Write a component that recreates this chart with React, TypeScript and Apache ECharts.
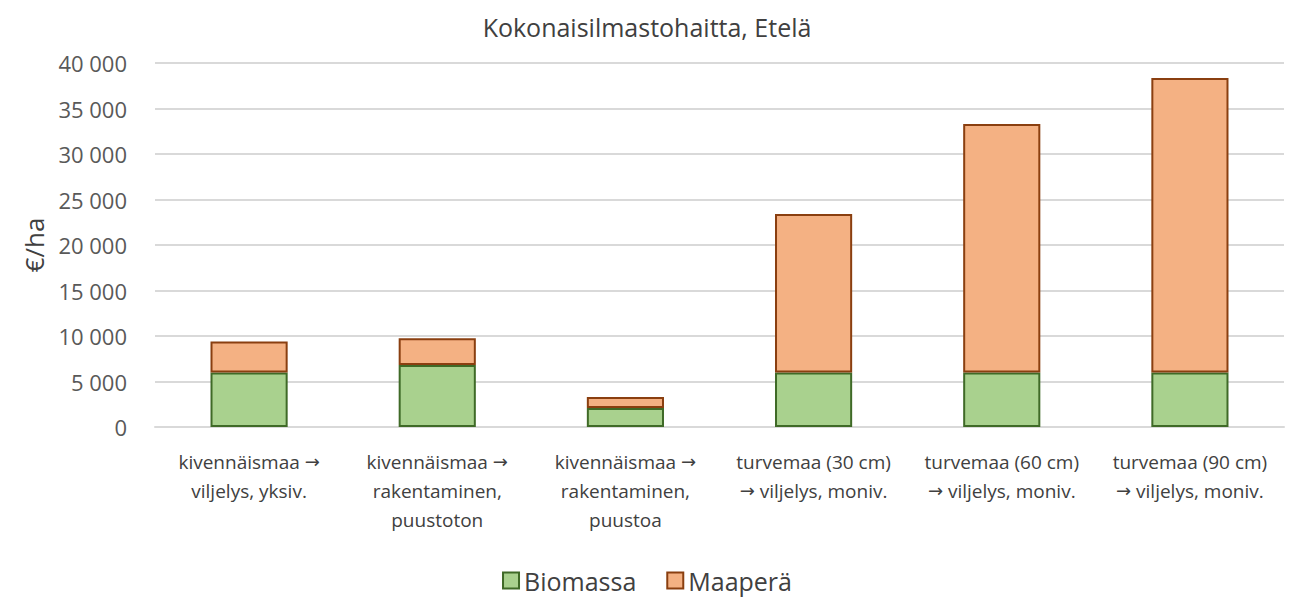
import React, { useEffect, useRef } from "react";
import * as echarts from "echarts";

const title = "Kokonaisilmastohaitta, Etelä";
const categories = [
  "kivennäismaa →\nviljelys, yksiv.",
  "kivennäismaa →\nrakentaminen,\npuustoton",
  "kivennäismaa →\nrakentaminen,\npuustoa",
  "turvemaa (30 cm)\n→ viljelys, moniv.",
  "turvemaa (60 cm)\n→ viljelys, moniv.",
  "turvemaa (90 cm)\n→ viljelys, moniv.",
];
const biomassa = [6000, 6800, 2100, 6000, 6000, 6000];
const maapera = [3400, 2950, 1200, 17400, 27300, 32350];
const seriesNames = ["Biomassa", "Maaperä"];

const FONT = "'Open Sans', 'Noto Sans', sans-serif";

export default function App() {
  const ref = useRef<HTMLDivElement>(null);
  useEffect(() => {
    if (!ref.current) return;
    const chart = echarts.init(ref.current, null, { renderer: "svg" });
    const fmt = (v: number) =>
      String(Math.round(v)).replace(/\B(?=(\d{3})+(?!\d))/g, " ");
    const catFmt = (v: string) =>
      v
        .split("\n")
        .map((line) =>
          line
            .split("→")
            .map((part) => (part ? `{t|${part}}` : ""))
            .join("{a|→}")
        )
        .join("\n");
    chart.setOption({
      animation: false,
      backgroundColor: "#ffffff",
      textStyle: { fontFamily: FONT },
      title: {
        text: title,
        left: "center",
        top: 9,
        textStyle: { fontFamily: FONT, fontSize: 25, fontWeight: "normal", color: "#404040" },
      },
      grid: { left: 155, right: 10, top: 63, bottom: 172, containLabel: false },
      legend: {
        bottom: 1,
        left: "center",
        itemWidth: 16,
        itemHeight: 16,
        itemGap: 30,
        icon: "rect",
        textStyle: { fontFamily: FONT, fontSize: 25, color: "#404040" },
        data: seriesNames,
      },
      xAxis: {
        type: "category",
        data: categories,
        axisLine: { show: true, lineStyle: { color: "#d9d9d9", width: 2 } },
        axisTick: { show: false },
        axisLabel: {
          interval: 0,
          margin: 20,
          fontFamily: FONT,
          fontSize: 19,
          lineHeight: 29,
          color: "#404040",
          formatter: catFmt,
          rich: {
            t: { fontFamily: FONT, fontSize: 19, lineHeight: 29, color: "#404040" },
            a: { fontFamily: "'DejaVu Sans', sans-serif", fontSize: 18, lineHeight: 29, color: "#404040" },
          },
        },
      },
      yAxis: {
        type: "value",
        min: 0,
        max: 40000,
        interval: 5000,
        name: "€/ha",
        nameLocation: "middle",
        nameGap: 104,
        nameTextStyle: { fontFamily: FONT, fontSize: 26, color: "#404040" },
        axisLine: { show: false },
        axisTick: { show: false },
        splitLine: { lineStyle: { color: "#d9d9d9", width: 2 } },
        axisLabel: {
          margin: 28,
          fontFamily: FONT,
          fontSize: 22,
          color: "#595959",
          formatter: fmt,
        },
      },
      series: [
        {
          name: seriesNames[0],
          type: "bar",
          stack: "total",
          barWidth: "41%",
          data: biomassa,
          itemStyle: { color: "#a9d18e", borderColor: "#3f6a27", borderWidth: 2 },
        },
        {
          name: seriesNames[1],
          type: "bar",
          stack: "total",
          barWidth: "41%",
          data: maapera,
          itemStyle: { color: "#f4b183", borderColor: "#8a3f10", borderWidth: 2 },
        },
      ],
    });
    return () => chart.dispose();
  }, []);
  return (
    <div
      ref={ref}
      style={{ position: "fixed", left: 0, top: 0, width: 1294, height: 599 }}
    />
  );
}
